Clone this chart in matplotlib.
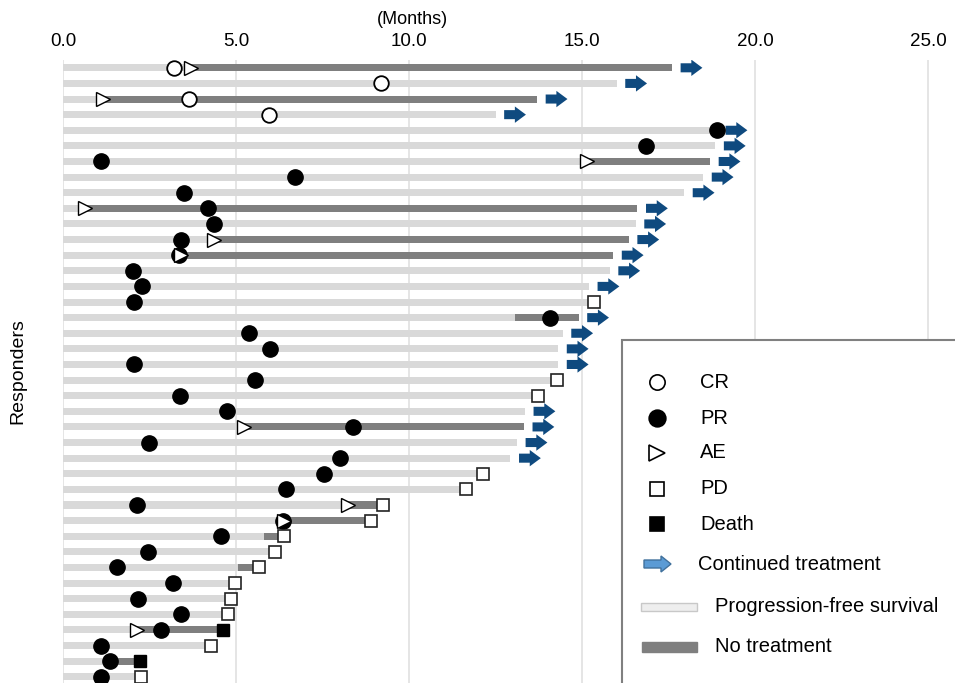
import matplotlib
matplotlib.use('Agg')
import matplotlib.pyplot as plt
from matplotlib.lines import Line2D
from matplotlib.patches import Rectangle, FancyArrow

plt.rcParams['font.family'] = ['Liberation Sans', 'DejaVu Sans']

# progression-free survival (months), one value per responder, top to bottom
pfs = [17.6, 16.0, 13.7, 12.5, 18.9, 18.85, 18.7, 18.5, 17.95, 16.6,
       16.55, 16.35, 15.9, 15.8, 15.2, 15.3, 14.9, 14.44, 14.31, 14.31,
       14.25, 13.7, 13.35, 13.32, 13.12, 12.93, 12.15, 11.66, 9.26, 8.89,
       6.4, 6.13, 5.66, 4.98, 4.85, 4.78, 4.61, 4.29, 2.23, 2.25]
# 1 = continued treatment (arrow)
continued = [1, 1, 1, 1, 1, 1, 1, 1, 1, 1,
             1, 1, 1, 1, 1, 0, 1, 1, 1, 1,
             0, 0, 1, 1, 1, 1, 0, 0, 0, 0,
             0, 0, 0, 0, 0, 0, 0, 0, 0, 0]

# no treatment periods
nt_rows = [1, 3, 7, 10, 12, 13, 17, 24, 29, 30, 31, 33, 37, 39]
nt_start = [3.7, 1.15, 15.15, 0.65, 4.35, 3.36, 13.07, 5.22, 8.25, 6.37, 5.8, 5.07, 2.14, 1.45]
nt_end = [17.6, 13.7, 18.7, 16.6, 16.35, 15.9, 14.9, 13.32, 9.26, 8.89, 6.4, 5.66, 4.61, 2.23]

cr_rows = [1, 2, 3, 4]
cr_x = [3.2, 9.2, 3.65, 5.95]

pr_rows = [5, 6, 7, 8, 9, 10, 11, 12, 13, 14, 15, 16, 17, 18, 19, 20, 21, 22, 23, 24,
           25, 26, 27, 28, 29, 30, 31, 32, 33, 34, 35, 36, 37, 38, 39, 40]
pr_x = [18.9, 16.85, 1.1, 6.7, 3.5, 4.2, 4.35, 3.4, 3.36, 2.03, 2.29, 2.06, 14.08, 5.39, 5.97,
        2.06, 5.56, 3.39, 4.73, 8.39, 2.48, 8.0, 7.55, 6.44, 2.13, 6.37, 4.58, 2.47, 1.57,
        3.17, 2.17, 3.4, 2.84, 1.11, 1.37, 1.11]

ae_rows = [1, 3, 7, 10, 12, 13, 24, 29, 30, 37]
ae_x = [3.7, 1.15, 15.15, 0.65, 4.35, 3.4, 5.22, 8.25, 6.4, 2.14]

pd_rows = [16, 21, 22, 27, 28, 29, 30, 31, 32, 33, 34, 35, 36, 38, 40]
pd_x = [15.35, 14.29, 13.73, 12.15, 11.66, 9.26, 8.89, 6.4, 6.13, 5.66, 4.98, 4.85, 4.78, 4.29, 2.25]

death_rows = [37, 39]
death_x = [4.61, 2.23]

xticks = [0, 5, 10, 15, 20, 25]

LIGHT = '#d9d9d9'
DARK = '#7f7f7f'
NAVY = '#0f4a7f'

W, H = 955, 683
fig = plt.figure(figsize=(W / 100, H / 100), dpi=100)
ax = fig.add_axes([63 / W, 0, 1 - 63 / W, 1 - 60 / H])

rows = list(range(1, len(pfs) + 1))
ax.barh(rows, pfs, height=0.45, color=LIGHT, zorder=2)
ax.barh(nt_rows, [e - s for s, e in zip(nt_start, nt_end)], left=nt_start,
        height=0.45, color=DARK, zorder=3)

for r, end, c in zip(rows, pfs, continued):
    if c:
        ax.add_patch(FancyArrow(end + 0.25, r, 0.63, 0, width=0.58, head_width=1.05,
                                head_length=0.32, length_includes_head=True,
                                color=NAVY, lw=0, zorder=4))

ax.plot(cr_x, cr_rows, 'o', ms=10.5, mfc='white', mec='black', mew=1.3, ls='none', zorder=5)
ax.plot(pr_x, pr_rows, 'o', ms=11, mfc='black', mec='black', ls='none', zorder=5)
ax.plot(ae_x, ae_rows, '>', ms=10, mfc='white', mec='black', mew=1.0, ls='none', zorder=6)
ax.plot(pd_x, pd_rows, 's', ms=8, mfc='white', mec='#222222', mew=1.2, ls='none', zorder=6)
ax.plot(death_x, death_rows, 's', ms=8, mfc='black', mec='black', ls='none', zorder=6)

ax.set_xlim(0, (W - 63) / 34.6)
ax.set_ylim(40.4, 0.5)
ax.set_xticks(xticks)
ax.set_xticklabels([f'{t:.1f}' for t in xticks], fontsize=13.5)
ax.xaxis.tick_top()
ax.tick_params(axis='x', length=0, pad=7)
ax.set_yticks([])
for s in ax.spines.values():
    s.set_visible(False)
ax.grid(axis='x', color='#e0e0e0', lw=1.2)
ax.set_axisbelow(True)

fig.text(412 / W, 1 - 19 / H, '(Months)', fontsize=13, ha='center', va='center')
fig.text(18 / W, 1 - 371 / H, 'Responders', fontsize=14, rotation=90, ha='center', va='center')


# legend drawn by hand in pixel positions
def fx(x):
    return x / W


def fy(y):
    return 1 - y / H


fig.add_artist(Rectangle((fx(622), fy(700)), fx(400), 360 / H, transform=fig.transFigure,
                         facecolor='white', edgecolor='#808080', lw=1.5, zorder=10))

legend_marks = [('o', 'white', 11, 'CR', 382), ('o', 'black', 12, 'PR', 418),
                ('>', 'white', 11, 'AE', 453), ('s', 'white', 10, 'PD', 489),
                ('s', 'black', 10.5, 'Death', 524)]
for m, fc, size, label, y in legend_marks:
    fig.add_artist(Line2D([fx(657)], [fy(y)], marker=m, ms=size, mfc=fc, mec='black',
                          mew=1.2, ls='none', transform=fig.transFigure, zorder=11))
    fig.text(fx(700), fy(y), label, fontsize=14.5, va='center', zorder=11)

fig.add_artist(FancyArrow(fx(644), fy(564), fx(27), 0, width=8 / H, head_width=16 / H,
                          head_length=fx(10), length_includes_head=True,
                          transform=fig.transFigure, facecolor='#5b9bd5',
                          edgecolor='#41719c', lw=1, zorder=11))
fig.text(fx(698), fy(564), 'Continued treatment', fontsize=14.5, va='center', zorder=11)

fig.add_artist(Rectangle((fx(641), fy(611)), fx(56), 8 / H, transform=fig.transFigure,
                         facecolor='#eeeeee', edgecolor='#c8c8c8', lw=1, zorder=11))
fig.text(fx(715), fy(607), 'Progression-free survival', fontsize=14.5, va='center', zorder=11)
fig.add_artist(Rectangle((fx(642), fy(652)), fx(55), 10 / H, transform=fig.transFigure,
                         facecolor=DARK, edgecolor=DARK, lw=1, zorder=11))
fig.text(fx(715), fy(647), 'No treatment', fontsize=14.5, va='center', zorder=11)

fig.savefig('out.png', dpi=100)
